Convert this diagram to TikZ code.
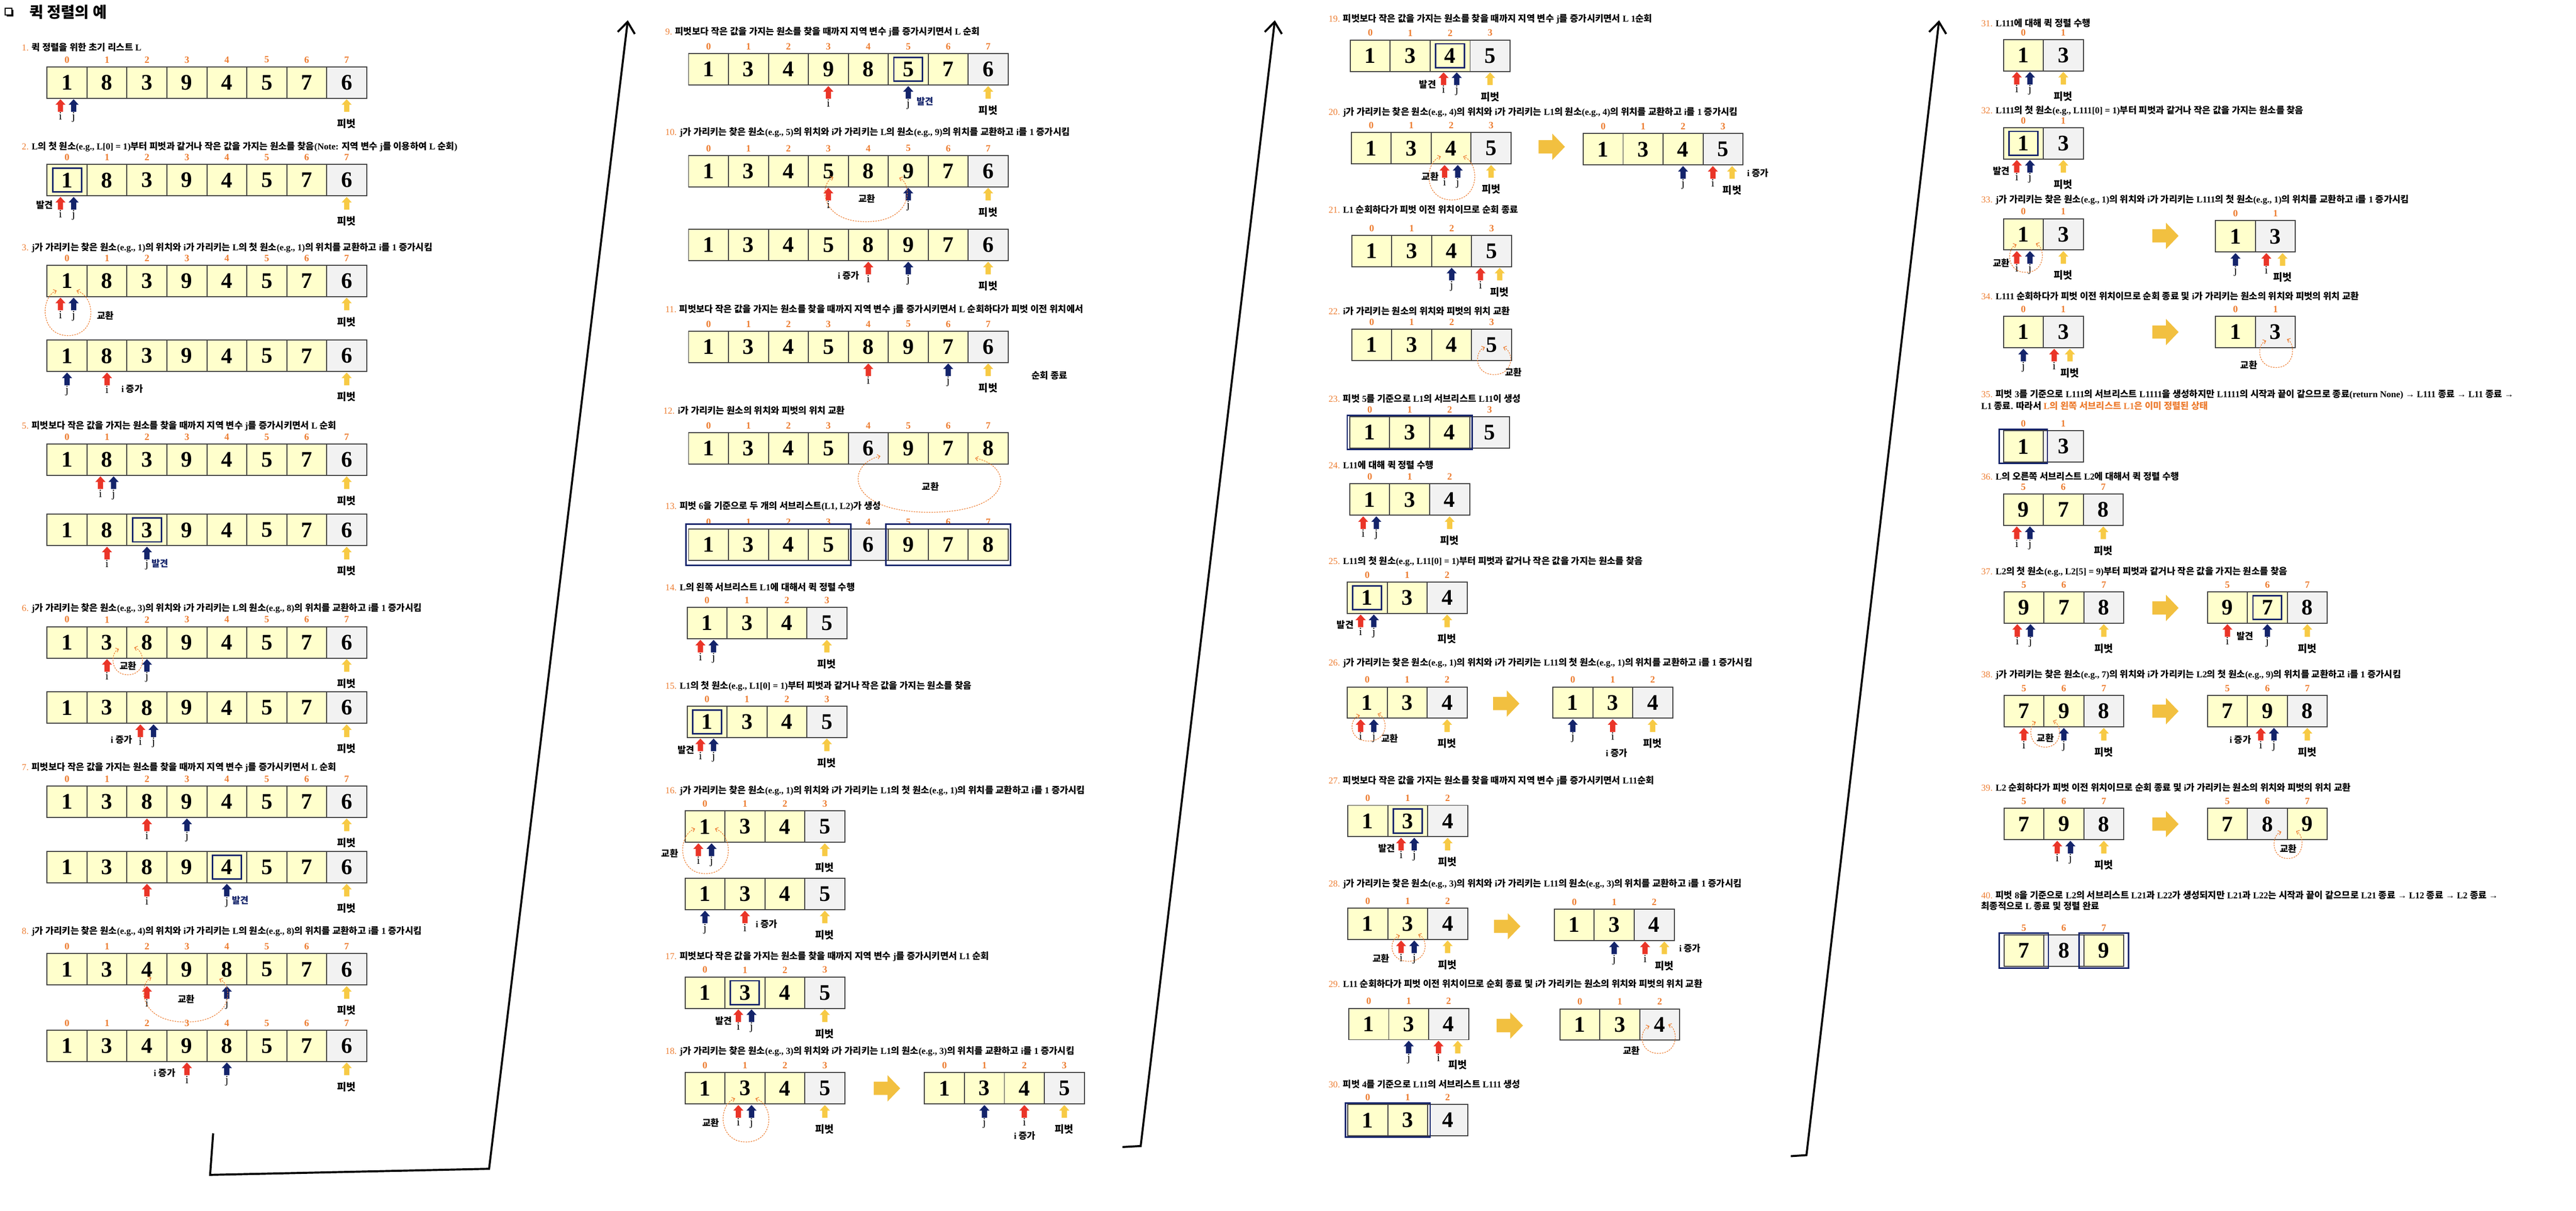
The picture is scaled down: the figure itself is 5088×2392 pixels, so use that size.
\documentclass[tikz,border=0pt]{standalone}
\usepackage{fontspec}
\setmainfont{Liberation Serif}
\newfontfamily\krfont{Noto Sans CJK KR}
\usetikzlibrary{arrows.meta,calc}
\XeTeXinterchartokenstate=1
\newXeTeXintercharclass\krcls
\newcount\hgc \hgc="AC00
\loop\ifnum\hgc<"D7A4 \XeTeXcharclass\hgc=\krcls \advance\hgc by 1 \repeat
\XeTeXinterchartoks 0 \krcls = {\begingroup\krfont}
\XeTeXinterchartoks 4095 \krcls = {\begingroup\krfont}
\XeTeXinterchartoks \krcls 0 = {\endgroup}
\XeTeXinterchartoks \krcls 4095 = {\endgroup}
\definecolor{cy}{HTML}{FFFFCC}
\definecolor{cg}{HTML}{F2F2F2}
\definecolor{bd}{HTML}{404040}
\definecolor{nv}{HTML}{14246B}
\definecolor{rd}{HTML}{EA3528}
\definecolor{yl}{HTML}{F7CA45}
\definecolor{og}{HTML}{ED7D31}
\definecolor{bga}{HTML}{F2C040}
\newcommand\Sno[1]{{\color{og}\mdseries#1}}
\newcommand\CellRow[4]{\foreach \vv/\ff [count=\kk from 0] in {#4}{\node[cellbox, fill=\ff] (#1-\kk) at ({#2+(\kk+0.5)*78.9},{#3+31}) {\vv};}}
\newcommand\IdxRow[2]{\foreach \ix [count=\kk from 0] in {#2}{\node[idxt] (#1-n\kk) at ($(#1-\kk.north)+(0,-14)$) {\ix};}}
\newcommand\HiCell[2]{\draw[hlbox] ($(#1-#2.north west)+(11,7.5)$) rectangle ($(#1-#2.south east)+(-11,-7.5)$);}
\newcommand\SubBox[5]{\draw[subbox] ($(#1-#2.north west)+(-#4,-#5)$) rectangle ($(#1-#3.south east)+(#4,#5)$);}
\newcommand\UpArrow[3]{\fill[#3] (#1,#2) -- ++(10,11) -- ++(-4.8,0) -- ++(0,14) -- ++(-10.4,0) -- ++(0,-14) -- ++(-4.8,0) -- cycle;}
\newcommand\Ptr[5]{\begin{scope}[shift={(#1-#2.south)}]\UpArrow{#3}{2}{#4}\node[ijt] (#1-#5) at (#3,38) {#5};\end{scope}}
\newcommand\Piv[3]{\begin{scope}[shift={(#1-#2.south)}]\UpArrow{#3}{2}{yl}\node[pvt] (#1-p) at (#3,50) {피벗};\end{scope}}
\newcommand\IJpair[2]{\Ptr{#1}{#2}{-13}{rd}{i}\Ptr{#1}{#2}{13}{nv}{j}}
\newcommand\SwapLoop[7]{%
  \pgfmathsetmacro\swm{(#5+#6)/2}%
  \pgfmathsetmacro\swl{(#5-0.125*(#1+\swm))/0.75}%
  \pgfmathsetmacro\swr{(#6-0.125*(#3+\swm))/0.75}%
  \draw[swp] (#1,#2) .. controls (\swl,{#2+0.15*(#7-#2)}) and (\swl,#7) .. (\swm,#7) .. controls (\swr,#7) and (\swr,{#4+0.15*(#7-#4)}) .. (#3,#4);}
\newcommand\BigArrow[2]{\begin{scope}[shift={(#1,#2)}]\fill[bga] (0,13) -- (27,13) -- (27,0) -- (52,26) -- (27,52) -- (27,39) -- (0,39) -- cycle;\end{scope}}
\begin{document}
\begin{tikzpicture}[x=1pt,y=-1pt,
  cellbox/.style={draw=bd, line width=2pt, minimum width=78.9pt, minimum height=62pt, inner sep=0pt, outer sep=0pt, font=\fontsize{44}{44}\selectfont\bfseries},
  hlbox/.style={draw=nv, line width=3pt},
  subbox/.style={draw=nv, line width=3pt},
  idxt/.style={inner sep=0pt, text=og, font=\fontsize{19}{19}\selectfont\bfseries},
  ijt/.style={inner sep=0pt, text height=15pt, text depth=5pt, font=\fontsize{22}{22}\selectfont},
  pvt/.style={inner sep=0pt, font=\fontsize{20}{20}\selectfont\bfseries},
  ntxt/.style={inner sep=0pt, font=\fontsize{18}{18}\selectfont\bfseries},
  stxt/.style={inner sep=0pt, anchor=west, font=\fontsize{18}{18}\selectfont\bfseries},
  swp/.style={draw=og, line width=1.2pt, dash pattern=on 3pt off 2pt, arrows={Straight Barb[length=5pt,width=9pt]-Straight Barb[length=5pt,width=9pt]}},
  conn/.style={draw=black, line width=4pt, -{Straight Barb[length=22pt,width=34pt]}}]
\path[use as bounding box, fill=white] (0,0) rectangle (5088,2392);
% title
\draw[line width=2pt] (10,16) rectangle (23,30);
\fill (13,30) rectangle (26,33);
\fill (23,19) rectangle (26,33);
\node[inner sep=0pt, anchor=west, font=\fontsize{30}{30}\selectfont\bfseries] (title) at (58,24) {퀵 정렬의 예};
% ===== Column 1 =====
\node[stxt] (t1) at (43,94) {\Sno{1.} 퀵 정렬을 위한 초기 리스트 L};
\CellRow{r1}{93}{132}{1/cy,8/cy,3/cy,9/cy,4/cy,5/cy,7/cy,6/cg}
\IdxRow{r1}{0,...,7}
\IJpair{r1}{0}\Piv{r1}{7}{0}
\node[stxt] (t2) at (43,290) {\Sno{2.} L의 첫 원소(e.g., L[0] = 1)부터 피벗과 같거나 작은 값을 가지는 원소를 찾음(Note: 지역 변수 j를 이용하여 L 순회)};
\CellRow{r2}{93}{325}{1/cy,8/cy,3/cy,9/cy,4/cy,5/cy,7/cy,6/cg}
\IdxRow{r2}{0,...,7}
\HiCell{r2}{0}
\IJpair{r2}{0}\Piv{r2}{7}{0}
\node[ntxt] (r2-f) at (88,405) {발견};
\node[stxt] (t3) at (43,489) {\Sno{3.} j가 가리키는 찾은 원소(e.g., 1)의 위치와 i가 가리키는 L의 첫 원소(e.g., 1)의 위치를 교환하고 i를 1 증가시킴};
\CellRow{r3a}{93}{524}{1/cy,8/cy,3/cy,9/cy,4/cy,5/cy,7/cy,6/cg}
\IdxRow{r3a}{0,...,7}
\IJpair{r3a}{0}\Piv{r3a}{7}{0}
\SwapLoop{112}{574}{151}{574}{90}{179}{663}
\node[ntxt] (r3a-s) at (208,623) {교환};
\CellRow{r3b}{93}{672}{1/cy,8/cy,3/cy,9/cy,4/cy,5/cy,7/cy,6/cg}
\Ptr{r3b}{0}{0}{nv}{j}\Ptr{r3b}{1}{0}{rd}{i}\Piv{r3b}{7}{0}
\node[ntxt] (r3b-s) at (261,768) {i 증가};
\node[stxt] (t5) at (43,841) {\Sno{5.} 피벗보다 작은 값을 가지는 원소를 찾을 때까지 지역 변수 j를 증가시키면서 L 순회};
\CellRow{r5a}{93}{877}{1/cy,8/cy,3/cy,9/cy,4/cy,5/cy,7/cy,6/cg}
\IdxRow{r5a}{0,...,7}
\IJpair{r5a}{1}\Piv{r5a}{7}{0}
\CellRow{r5b}{93}{1016}{1/cy,8/cy,3/cy,9/cy,4/cy,5/cy,7/cy,6/cg}
\HiCell{r5b}{2}
\Ptr{r5b}{1}{0}{rd}{i}\Ptr{r5b}{2}{0}{nv}{j}\Piv{r5b}{7}{0}
\node[ntxt, text=nv] (r5b-f) at (316,1113) {발견};
\node[stxt] (t6) at (43,1202) {\Sno{6.} j가 가리키는 찾은 원소(e.g., 3)의 위치와 i가 가리키는 L의 원소(e.g., 8)의 위치를 교환하고 i를 1 증가시킴};
\CellRow{r6a}{93}{1238}{1/cy,3/cy,8/cy,9/cy,4/cy,5/cy,7/cy,6/cg}
\IdxRow{r6a}{0,...,7}
\Ptr{r6a}{1}{0}{rd}{i}\Ptr{r6a}{2}{0}{nv}{j}\Piv{r6a}{7}{0}
\SwapLoop{235}{1282}{265}{1279}{224}{281}{1333}
\node[ntxt] (r6a-s) at (253,1315) {교환};
\CellRow{r6b}{93}{1367}{1/cy,3/cy,8/cy,9/cy,4/cy,5/cy,7/cy,6/cg}
\IJpair{r6b}{2}\Piv{r6b}{7}{0}
\node[ntxt] (r6b-s) at (240,1461) {i 증가};
\node[stxt] (t7) at (43,1516) {\Sno{7.} 피벗보다 작은 값을 가지는 원소를 찾을 때까지 지역 변수 j를 증가시키면서 L 순회};
\CellRow{r7a}{93}{1553}{1/cy,3/cy,8/cy,9/cy,4/cy,5/cy,7/cy,6/cg}
\IdxRow{r7a}{0,...,7}
\Ptr{r7a}{2}{0}{rd}{i}\Ptr{r7a}{3}{0}{nv}{j}\Piv{r7a}{7}{0}
\CellRow{r7b}{93}{1682}{1/cy,3/cy,8/cy,9/cy,4/cy,5/cy,7/cy,6/cg}
\HiCell{r7b}{4}
\Ptr{r7b}{2}{0}{rd}{i}\Ptr{r7b}{4}{0}{nv}{j}\Piv{r7b}{7}{0}
\node[ntxt, text=nv] (r7b-f) at (475,1779) {발견};
\node[stxt] (t8) at (43,1840) {\Sno{8.} j가 가리키는 찾은 원소(e.g., 4)의 위치와 i가 가리키는 L의 원소(e.g., 8)의 위치를 교환하고 i를 1 증가시킴};
\CellRow{r8a}{93}{1884}{1/cy,3/cy,4/cy,9/cy,8/cy,5/cy,7/cy,6/cg}
\IdxRow{r8a}{0,...,7}
\Ptr{r8a}{2}{0}{rd}{i}\Ptr{r8a}{4}{0}{nv}{j}\Piv{r8a}{7}{0}
\SwapLoop{299}{1931}{433}{1934}{288}{446}{2019}
\node[ntxt] (r8a-s) at (368,1974) {교환};
\CellRow{r8b}{93}{2035}{1/cy,3/cy,4/cy,9/cy,8/cy,5/cy,7/cy,6/cg}
\IdxRow{r8b}{0,...,7}
\Ptr{r8b}{3}{0}{rd}{i}\Ptr{r8b}{4}{0}{nv}{j}\Piv{r8b}{7}{0}
\node[ntxt] (r8b-s) at (325,2120) {i 증가};
% ===== Column 2 =====
\node[stxt] (t9) at (1314,63) {\Sno{9.} 피벗보다 작은 값을 가지는 원소를 찾을 때까지 지역 변수 j를 증가시키면서 L 순회};
\CellRow{r9}{1360}{106}{1/cy,3/cy,4/cy,9/cy,8/cy,5/cy,7/cy,6/cg}
\IdxRow{r9}{0,...,7}
\HiCell{r9}{5}
\Ptr{r9}{3}{0}{rd}{i}\Ptr{r9}{5}{0}{nv}{j}\Piv{r9}{7}{0}
\node[ntxt, text=nv] (r9-f) at (1827,200) {발견};
\node[stxt] (t10) at (1314,261) {\Sno{10.} j가 가리키는 찾은 원소(e.g., 5)의 위치와 i가 가리키는 L의 원소(e.g., 9)의 위치를 교환하고 i를 1 증가시킴};
\CellRow{r10a}{1360}{307}{1/cy,3/cy,4/cy,5/cy,8/cy,9/cy,7/cy,6/cg}
\IdxRow{r10a}{0,...,7}
\Ptr{r10a}{3}{0}{rd}{i}\Ptr{r10a}{5}{0}{nv}{j}\Piv{r10a}{7}{0}
\SwapLoop{1646}{350}{1776}{351}{1633}{1788}{438}
\node[ntxt] (r10a-s) at (1712,392) {교환};
\CellRow{r10b}{1360}{453}{1/cy,3/cy,4/cy,5/cy,8/cy,9/cy,7/cy,6/cg}
\Ptr{r10b}{4}{0}{rd}{i}\Ptr{r10b}{5}{0}{nv}{j}\Piv{r10b}{7}{0}
\node[ntxt] (r10b-s) at (1676,544) {i 증가};
\node[stxt] (t11) at (1314,611) {\Sno{11.} 피벗보다 작은 값을 가지는 원소를 찾을 때까지 지역 변수 j를 증가시키면서 L 순회하다가 피벗 이전 위치에서};
\CellRow{r11}{1360}{654}{1/cy,3/cy,4/cy,5/cy,8/cy,9/cy,7/cy,6/cg}
\IdxRow{r11}{0,...,7}
\Ptr{r11}{4}{0}{rd}{i}\Ptr{r11}{6}{0}{nv}{j}\Piv{r11}{7}{0}
\node[ntxt] (r11-e) at (2073,742) {순회 종료};
\node[stxt] (t12) at (1310,811) {\Sno{12.} i가 가리키는 원소의 위치와 피벗의 위치 교환};
\CellRow{r12}{1360}{855}{1/cy,3/cy,4/cy,5/cy,6/cg,9/cy,7/cy,8/cy}
\IdxRow{r12}{0,...,7}
\SwapLoop{1739}{901}{1926}{905}{1699}{1973}{1012}
\node[ntxt] (r12-s) at (1838,961) {교환};
\node[stxt] (t13) at (1314,1000) {\Sno{13.} 피벗 6을 기준으로 두 개의 서브리스트(L1, L2)가 생성};
\CellRow{r13}{1360}{1045}{1/cy,3/cy,4/cy,5/cy,6/cg,9/cy,7/cy,8/cy}
\IdxRow{r13}{0,...,7}
\SubBox{r13}{0}{3}{5}{9.5}
\SubBox{r13}{5}{7}{5}{10}
\node[stxt] (t14) at (1314,1160) {\Sno{14.} L의 왼쪽 서브리스트 L1에 대해서 퀵 정렬 수행};
\CellRow{r14}{1357}{1200}{1/cy,3/cy,4/cy,5/cg}
\IdxRow{r14}{0,...,3}
\IJpair{r14}{0}\Piv{r14}{3}{0}
\node[stxt] (t15) at (1314,1355) {\Sno{15.} L1의 첫 원소(e.g., L1[0] = 1)부터 피벗과 같거나 작은 값을 가지는 원소를 찾음};
\CellRow{r15}{1357}{1395}{1/cy,3/cy,4/cy,5/cg}
\IdxRow{r15}{0,...,3}
\HiCell{r15}{0}
\IJpair{r15}{0}\Piv{r15}{3}{0}
\node[ntxt] (r15-f) at (1355,1481) {발견};
\node[stxt] (t16) at (1314,1562) {\Sno{16.} j가 가리키는 찾은 원소(e.g., 1)의 위치와 i가 가리키는 L1의 첫 원소(e.g., 1)의 위치를 교환하고 i를 1 증가시킴};
\CellRow{r16a}{1353}{1602}{1/cy,3/cy,4/cy,5/cg}
\IdxRow{r16a}{0,...,3}
\IJpair{r16a}{0}\Piv{r16a}{3}{0}
\SwapLoop{1373}{1637}{1412}{1637}{1349}{1438}{1726}
\node[ntxt] (r16a-s) at (1323,1686) {교환};
\CellRow{r16b}{1353}{1735}{1/cy,3/cy,4/cy,5/cg}
\Ptr{r16b}{0}{0}{nv}{j}\Ptr{r16b}{1}{0}{rd}{i}\Piv{r16b}{3}{0}
\node[ntxt] (r16b-s) at (1514,1825) {i 증가};
\node[stxt] (t17) at (1314,1890) {\Sno{17.} 피벗보다 작은 값을 가지는 원소를 찾을 때까지 지역 변수 j를 증가시키면서 L1 순회};
\CellRow{r17}{1353}{1930}{1/cy,3/cy,4/cy,5/cg}
\IdxRow{r17}{0,...,3}
\HiCell{r17}{1}
\IJpair{r17}{1}\Piv{r17}{3}{0}
\node[ntxt] (r17-f) at (1429,2017) {발견};
\node[stxt] (t18) at (1314,2077) {\Sno{18.} j가 가리키는 찾은 원소(e.g., 3)의 위치와 i가 가리키는 L1의 원소(e.g., 3)의 위치를 교환하고 i를 1 증가시킴};
\CellRow{r18a}{1353}{2119}{1/cy,3/cy,4/cy,5/cg}
\IdxRow{r18a}{0,...,3}
\IJpair{r18a}{1}\Piv{r18a}{3}{0}
\SwapLoop{1452}{2170}{1492}{2170}{1429}{1518}{2256}
\node[ntxt] (r18a-s) at (1404,2218) {교환};
\BigArrow{1726}{2124}
\CellRow{r18b}{1826}{2119}{1/cy,3/cy,4/cy,5/cg}
\IdxRow{r18b}{0,...,3}
\Ptr{r18b}{1}{0}{nv}{j}\Ptr{r18b}{2}{0}{rd}{i}\Piv{r18b}{3}{0}
\node[ntxt] (r18b-s) at (2024,2244) {i 증가};
% ===== Column 3 =====
\node[stxt] (t19) at (2624,38) {\Sno{19.} 피벗보다 작은 값을 가지는 원소를 찾을 때까지 지역 변수 j를 증가시키면서 L 1순회};
\CellRow{r19}{2667}{79}{1/cy,3/cy,4/cy,5/cg}
\IdxRow{r19}{0,...,3}
\HiCell{r19}{2}
\IJpair{r19}{2}\Piv{r19}{3}{0}
\node[ntxt] (r19-f) at (2820,167) {발견};
\node[stxt] (t20) at (2624,222) {\Sno{20.} j가 가리키는 찾은 원소(e.g., 4)의 위치와 i가 가리키는 L1의 원소(e.g., 4)의 위치를 교환하고 i를 1 증가시킴};
\CellRow{r20a}{2669}{262}{1/cy,3/cy,4/cy,5/cg}
\IdxRow{r20a}{0,...,3}
\IJpair{r20a}{2}\Piv{r20a}{3}{0}
\SwapLoop{2846}{309}{2890}{309}{2823}{2912}{395}
\node[ntxt] (r20a-s) at (2825,349) {교환};
\BigArrow{3039}{264}
\CellRow{r20b}{3127}{264}{1/cy,3/cy,4/cy,5/cg}
\IdxRow{r20b}{0,...,3}
\Ptr{r20b}{2}{0}{nv}{j}\Ptr{r20b}{3}{-20}{rd}{i}\Piv{r20b}{3}{18}
\node[ntxt] (r20b-s) at (3472,342) {i 증가};
\node[stxt] (t21) at (2624,414) {\Sno{21.} L1 순회하다가 피벗 이전 위치이므로 순회 종료};
\CellRow{r21}{2670}{465}{1/cy,3/cy,4/cy,5/cg}
\IdxRow{r21}{0,...,3}
\Ptr{r21}{2}{0}{nv}{j}\Ptr{r21}{3}{-22}{rd}{i}\Piv{r21}{3}{16}
\node[stxt] (t22) at (2624,614) {\Sno{22.} i가 가리키는 원소의 위치와 피벗의 위치 교환};
\CellRow{r22}{2670}{650}{1/cy,3/cy,4/cy,5/cg}
\IdxRow{r22}{0,...,3}
\SwapLoop{2933}{686}{2969}{686}{2919}{2983}{740}
\node[ntxt] (r22-s) at (2989,735) {교환};
\node[stxt] (t23) at (2624,788) {\Sno{23.} 피벗 5를 기준으로 L1의 서브리스트 L11이 생성};
\CellRow{r23}{2666}{823}{1/cy,3/cy,4/cy,5/cg}
\IdxRow{r23}{0,...,3}
\SubBox{r23}{0}{2}{5}{2.5}
\node[stxt] (t24) at (2624,919) {\Sno{24.} L11에 대해 퀵 정렬 수행};
\CellRow{r24}{2666}{956}{1/cy,3/cy,4/cg}
\IdxRow{r24}{0,1,2}
\IJpair{r24}{0}\Piv{r24}{2}{0}
\node[stxt] (t25) at (2624,1109) {\Sno{25.} L11의 첫 원소(e.g., L11[0] = 1)부터 피벗과 같거나 작은 값을 가지는 원소를 찾음};
\CellRow{r25}{2661}{1150}{1/cy,3/cy,4/cg}
\IdxRow{r25}{0,1,2}
\HiCell{r25}{0}
\IJpair{r25}{0}\Piv{r25}{2}{0}
\node[ntxt] (r25-f) at (2657,1234) {발견};
\node[stxt] (t26) at (2624,1310) {\Sno{26.} j가 가리키는 찾은 원소(e.g., 1)의 위치와 i가 가리키는 L11의 첫 원소(e.g., 1)의 위치를 교환하고 i를 1 증가시킴};
\CellRow{r26a}{2661}{1357}{1/cy,3/cy,4/cg}
\IdxRow{r26a}{0,1,2}
\IJpair{r26a}{0}\Piv{r26a}{2}{0}
\SwapLoop{2686}{1413}{2721}{1410}{2671}{2735}{1464}
\node[ntxt] (r26a-s) at (2745,1459) {교환};
\BigArrow{2949}{1364}
\CellRow{r26b}{3067}{1357}{1/cy,3/cy,4/cg}
\IdxRow{r26b}{0,1,2}
\Ptr{r26b}{0}{0}{nv}{j}\Ptr{r26b}{1}{0}{rd}{i}\Piv{r26b}{2}{0}
\node[ntxt] (r26b-s) at (3193,1488) {i 증가};
\node[stxt] (t27) at (2624,1543) {\Sno{27.} 피벗보다 작은 값을 가지는 원소를 찾을 때까지 지역 변수 j를 증가시키면서 L11순회};
\CellRow{r27}{2662}{1591}{1/cy,3/cy,4/cg}
\IdxRow{r27}{0,1,2}
\HiCell{r27}{1}
\IJpair{r27}{1}\Piv{r27}{2}{0}
\node[ntxt] (r27-f) at (2739,1676) {발견};
\node[stxt] (t28) at (2624,1746) {\Sno{28.} j가 가리키는 찾은 원소(e.g., 3)의 위치와 i가 가리키는 L11의 원소(e.g., 3)의 위치를 교환하고 i를 1 증가시킴};
\CellRow{r28a}{2662}{1794}{1/cy,3/cy,4/cg}
\IdxRow{r28a}{0,1,2}
\IJpair{r28a}{1}\Piv{r28a}{2}{0}
\SwapLoop{2765}{1848}{2801}{1846}{2750}{2814}{1899}
\node[ntxt] (r28a-s) at (2728,1893) {교환};
\BigArrow{2951}{1804}
\CellRow{r28b}{3070}{1796}{1/cy,3/cy,4/cg}
\IdxRow{r28b}{0,1,2}
\Ptr{r28b}{1}{0}{nv}{j}\Ptr{r28b}{2}{-18}{rd}{i}\Piv{r28b}{2}{20}
\node[ntxt] (r28b-s) at (3338,1873) {i 증가};
\node[stxt] (t29) at (2624,1943) {\Sno{29.} L11 순회하다가 피벗 이전 위치이므로 순회 종료 및 i가 가리키는 원소의 위치와 피벗의 위치 교환};
\CellRow{r29a}{2664}{1992}{1/cy,3/cy,4/cg}
\IdxRow{r29a}{0,1,2}
\Ptr{r29a}{1}{0}{nv}{j}\Ptr{r29a}{2}{-20}{rd}{i}\Piv{r29a}{2}{18}
\BigArrow{2956}{2000}
\CellRow{r29b}{3081}{1993}{1/cy,3/cy,4/cg}
\IdxRow{r29b}{0,1,2}
\SwapLoop{3258}{2027}{3295}{2024}{3244}{3308}{2081}
\node[ntxt] (r29b-s) at (3222,2076) {교환};
\node[stxt] (t30) at (2624,2142) {\Sno{30.} 피벗 4를 기준으로 L11의 서브리스트 L111 생성};
\CellRow{r30}{2662}{2182}{1/cy,3/cy,4/cg}
\IdxRow{r30}{0,1,2}
\SubBox{r30}{0}{1}{5}{2.5}
% ===== Column 4 =====
\node[stxt] (t31) at (3913,46) {\Sno{31.} L111에 대해 퀵 정렬 수행};
\CellRow{r31}{3957}{78}{1/cy,3/cg}
\IdxRow{r31}{0,1}
\IJpair{r31}{0}\Piv{r31}{1}{0}
\node[stxt] (t32) at (3913,219) {\Sno{32.} L111의 첫 원소(e.g., L111[0] = 1)부터 피벗과 같거나 작은 값을 가지는 원소를 찾음};
\CellRow{r32}{3957}{252}{1/cy,3/cg}
\IdxRow{r32}{0,1}
\HiCell{r32}{0}
\IJpair{r32}{0}\Piv{r32}{1}{0}
\node[ntxt] (r32-f) at (3953,338) {발견};
\node[stxt] (t33) at (3913,395) {\Sno{33.} j가 가리키는 찾은 원소(e.g., 1)의 위치와 i가 가리키는 L111의 첫 원소(e.g., 1)의 위치를 교환하고 i를 1 증가시킴};
\CellRow{r33a}{3957}{432}{1/cy,3/cg}
\IdxRow{r33a}{0,1}
\IJpair{r33a}{0}\Piv{r33a}{1}{0}
\SwapLoop{3983}{483}{4021}{481}{3970}{4033}{538}
\node[ntxt] (r33a-s) at (3953,520) {교환};
\BigArrow{4251}{440}
\CellRow{r33b}{4376}{436}{1/cy,3/cg}
\IdxRow{r33b}{0,1}
\Ptr{r33b}{0}{0}{nv}{j}\Ptr{r33b}{1}{-18}{rd}{i}\Piv{r33b}{1}{14}
\node[stxt] (t34) at (3913,585) {\Sno{34.} L111 순회하다가 피벗 이전 위치이므로 순회 종료 및 i가 가리키는 원소의 위치와 피벗의 위치 교환};
\CellRow{r34a}{3957}{625}{1/cy,3/cg}
\IdxRow{r34a}{0,1}
\Ptr{r34a}{0}{0}{nv}{j}\Ptr{r34a}{1}{-18}{rd}{i}\Piv{r34a}{1}{13}
\BigArrow{4251}{630}
\CellRow{r34b}{4376}{625}{1/cy,3/cg}
\IdxRow{r34b}{0,1}
\SwapLoop{4476}{673}{4517}{670}{4464}{4527}{726}
\node[ntxt] (r34b-s) at (4442,721) {교환};
\node[stxt] (t35a) at (3913,779) {\Sno{35.} 피벗 3를 기준으로 L111의 서브리스트 L1111을 생성하지만 L1111의 시작과 끝이 같으므로 종료(return None) → L111 종료 → L11 종료 →};
\node[stxt] (t35b) at (3913,802) {L1 종료. 따라서 \textcolor{og}{L의 왼쪽 서브리스트 L1은 이미 정렬된 상태}};
\CellRow{r35}{3957}{851}{1/cy,3/cg}
\IdxRow{r35}{0,1}
\SubBox{r35}{0}{0}{8}{2.5}
\node[stxt] (t36) at (3913,941) {\Sno{36.} L의 오른쪽 서브리스트 L2에 대해서 퀵 정렬 수행};
\CellRow{r36}{3957}{976}{9/cy,7/cy,8/cg}
\IdxRow{r36}{5,6,7}
\IJpair{r36}{0}\Piv{r36}{2}{0}
\node[stxt] (t37) at (3913,1129) {\Sno{37.} L2의 첫 원소(e.g., L2[5] = 9)부터 피벗과 같거나 작은 값을 가지는 원소를 찾음};
\CellRow{r37a}{3958}{1169}{9/cy,7/cy,8/cg}
\IdxRow{r37a}{5,6,7}
\IJpair{r37a}{0}\Piv{r37a}{2}{0}
\BigArrow{4251}{1175}
\CellRow{r37b}{4360}{1169}{9/cy,7/cy,8/cg}
\IdxRow{r37b}{5,6,7}
\HiCell{r37b}{1}
\Ptr{r37b}{0}{0}{rd}{i}\Ptr{r37b}{1}{0}{nv}{j}\Piv{r37b}{2}{0}
\node[ntxt] (r37b-f) at (4434,1257) {발견};
\node[stxt] (t38) at (3913,1333) {\Sno{38.} j가 가리키는 찾은 원소(e.g., 7)의 위치와 i가 가리키는 L2의 첫 원소(e.g., 9)의 위치를 교환하고 i를 1 증가시킴};
\CellRow{r38a}{3958}{1374}{7/cy,9/cy,8/cg}
\IdxRow{r38a}{5,6,7}
\Ptr{r38a}{0}{0}{rd}{i}\Ptr{r38a}{1}{0}{nv}{j}\Piv{r38a}{2}{0}
\SwapLoop{4021}{1426}{4055}{1424}{4012}{4067}{1476}
\node[ntxt] (r38a-s) at (4040,1458) {교환};
\BigArrow{4251}{1379}
\CellRow{r38b}{4360}{1374}{7/cy,9/cy,8/cg}
\IdxRow{r38b}{5,6,7}
\IJpair{r38b}{1}\Piv{r38b}{2}{0}
\node[ntxt] (r38b-s) at (4425,1461) {i 증가};
\node[stxt] (t39) at (3913,1556) {\Sno{39.} L2 순회하다가 피벗 이전 위치이므로 순회 종료 및 i가 가리키는 원소의 위치와 피벗의 위치 교환};
\CellRow{r39a}{3958}{1597}{7/cy,9/cy,8/cg}
\IdxRow{r39a}{5,6,7}
\IJpair{r39a}{1}\Piv{r39a}{2}{0}
\BigArrow{4251}{1602}
\CellRow{r39b}{4360}{1597}{7/cy,8/cg,9/cy}
\IdxRow{r39b}{5,6,7}
\SwapLoop{4506}{1643}{4535}{1642}{4492}{4546}{1696}
\node[ntxt] (r39b-s) at (4520,1677) {교환};
\node[stxt] (t40a) at (3913,1768) {\Sno{40.} 피벗 8을 기준으로 L2의 서브리스트 L21과 L22가 생성되지만 L21과 L22는 시작과 끝이 같으므로 L21 종료 → L12 종료 → L2 종료 →};
\node[stxt] (t40b) at (3913,1790) {최종적으로 L 종료 및 정렬 완료};
\CellRow{r40}{3958}{1847}{7/cy,8/cg,9/cy}
\IdxRow{r40}{5,6,7}
\SubBox{r40}{0}{0}{9}{3.5}
\SubBox{r40}{2}{2}{9}{3.5}
% ===== connectors =====
\coordinate (k1a) at (421,2239);
\coordinate (k1b) at (415,2321);
\coordinate (k1c) at (966,2309);
\coordinate (k1d) at (1240,40);
\draw[conn] (k1a) -- (k1b) -- (k1c) -- (k1d);
\coordinate (k2a) at (2217,2266);
\coordinate (k2b) at (2253,2264);
\coordinate (k2c) at (2518,40);
\draw[conn] (k2a) -- (k2b) -- (k2c);
\coordinate (k3a) at (3537,2284);
\coordinate (k3b) at (3568,2282);
\coordinate (k3c) at (3830,40);
\draw[conn] (k3a) -- (k3b) -- (k3c);
\end{tikzpicture}
\end{document}
